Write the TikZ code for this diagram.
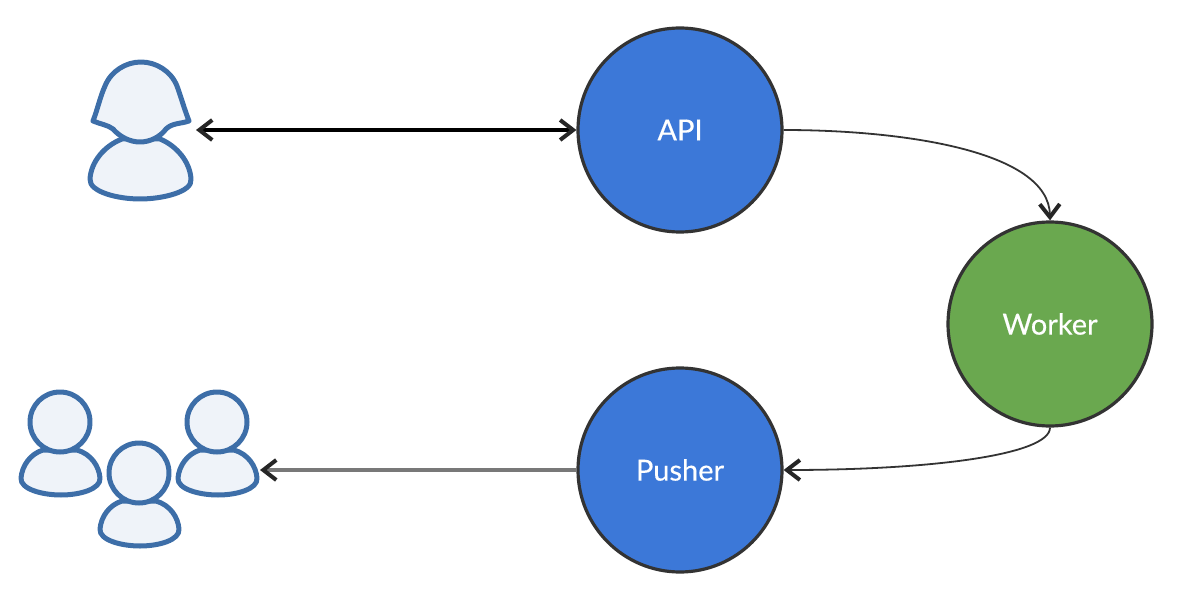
\documentclass[tikz,border=0pt]{standalone}
\usepackage{fontspec}
\setmainfont[FakeBold=0.4]{Lato}
\usetikzlibrary{arrows.meta}
\definecolor{apiColor}{RGB}{60,120,216}
\definecolor{workerColor}{RGB}{106,168,79}
\definecolor{edgeColor}{RGB}{51,51,51}
\definecolor{pushColor}{RGB}{120,120,120}
\definecolor{userLine}{RGB}{61,110,168}
\definecolor{userFill}{RGB}{239,243,249}
\tikzset{
    barbTip/.tip={Straight Barb[length=13pt,width=20pt,line width=4pt,color=black!85]},
    service/.style={circle, draw=edgeColor, line width=3.2pt, minimum size=204pt, inner sep=0pt,
        text=white, font=\fontsize{29}{31}\selectfont},
    userShape/.style={draw=userLine, fill=userFill, line width=5pt, line join=round},
    link/.style={-barbTip, edgeColor},
    person/.pic={
        % cuerpo
        \draw[userShape] (-17,28) .. controls (-30,32) and (-38,44) .. (-39,56)
            .. controls (-40,67) and (-18,73) .. (1,73)
            .. controls (20,73) and (41,67) .. (40,56)
            .. controls (39,44) and (31,32) .. (17,28) -- cycle;
        % cabeza
        \draw[userShape] (0,0) circle (30);
    }
}

\begin{document}
\begin{tikzpicture}[x=1pt, y=-1pt]
    \useasboundingbox (0,0) rectangle (1188,604);

    % Servicios
    \node[service, fill=apiColor] (api) at (680,130) {API};
    \node[service, fill=workerColor] (worker) at (1050,324) {Worker};
    \node[service, fill=apiColor] (pusher) at (680,470) {Pusher};

    % Usuaria (cuerpo y pelo)
    \draw[userShape] (122,139) .. controls (104,146) and (91,162) .. (90,179)
        .. controls (89,192) and (118,199) .. (140,199)
        .. controls (162,199) and (193,192) .. (191,179)
        .. controls (190,162) and (177,146) .. (160,139) -- cycle;
    \draw[userShape] (93,121) .. controls (98,108) and (100,97) .. (105,86)
        .. controls (111,71) and (126,62) .. (141,62)
        .. controls (156,62) and (171,71) .. (177,86)
        .. controls (181,97) and (184,108) .. (189,121)
        .. controls (180,124) and (172,123) .. (166,129)
        .. controls (160,137) and (150,142) .. (140,142)
        .. controls (130,142) and (120,137) .. (113,129)
        .. controls (108,125) and (100,124) .. (93,121) -- cycle;
    \coordinate (singleUser) at (196,130);

    % Grupo de usuarios
    \pic at (60,422) {person};
    \pic at (217,422) {person};
    \pic at (139,473) {person};
    \coordinate (userGroup) at (260,470);

    % Conexiones
    \draw[barbTip-barbTip, black, line width=3.2pt] (singleUser) -- (api);
    \draw[link, line width=1.8pt] (api.east) .. controls (900,130) and (1049,150) .. (worker.north);
    \draw[link, line width=1.8pt] (worker.south) .. controls (1050,455) and (930,470) .. (pusher.east);
    \draw[-barbTip, pushColor, line width=3.2pt] (pusher) -- (userGroup);
\end{tikzpicture}
\end{document}
